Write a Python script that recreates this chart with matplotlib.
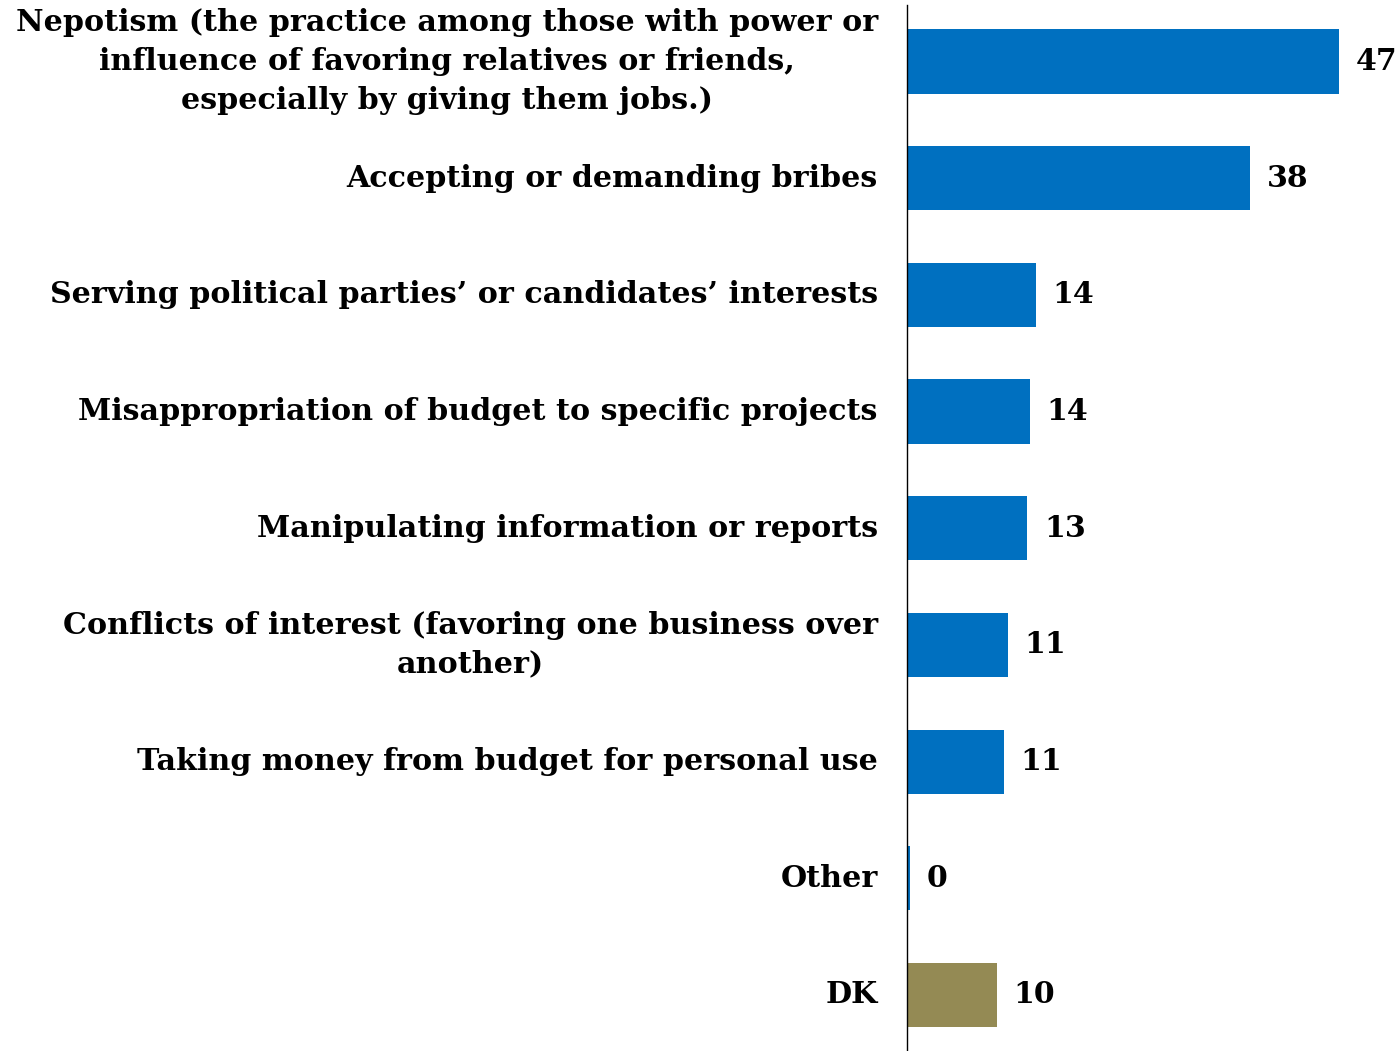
import matplotlib.pyplot as plt

# Dados
categorias = [
    "Nepotism (the practice among those with power or\ninfluence of favoring relatives or friends,\nespecially by giving them jobs.)",
    "Accepting or demanding bribes",
    "Serving political parties\u2019 or candidates\u2019 interests",
    "Misappropriation of budget to specific projects",
    "Manipulating information or reports",
    "Conflicts of interest (favoring one business over\nanother)",
    "Taking money from budget for personal use",
    "Other",
    "DK",
]
valores = [47.0, 37.3, 14.0, 13.4, 13.1, 11.0, 10.5, 0.3, 9.8]
rotulos = ["47", "38", "14", "14", "13", "11", "11", "0", "10"]
cores = ["#0070C0"] * 8 + ["#948A54"]

plt.rcParams["font.family"] = ["DejaVu Serif"]

fig = plt.figure(figsize=(13.98, 10.51), dpi=100)
ax = fig.add_axes([907 / 1398, 0, 1 - 907 / 1398, 1 - 5 / 1051])

y = list(range(len(categorias)))
ax.barh(y, valores, height=0.55, color=cores)

for yi, v, r in zip(y, valores, rotulos):
    ax.text(v + 1.8, yi, r, va="center", ha="left", fontsize=21.5, fontweight="bold")

ax.set_ylim(len(categorias) - 1 + 0.48, -0.484)
ax.set_xlim(0, 53.4)

ax.set_yticks(y)
ax.set_yticklabels(categorias, fontsize=21.7, fontweight="bold")
for t in ax.get_yticklabels():
    t.set_multialignment("center")
    t.set_linespacing(1.42)
    t.set_verticalalignment("center")
ax.tick_params(axis="y", length=0, pad=21)
ax.set_xticks([])

for s in ["top", "right", "bottom"]:
    ax.spines[s].set_visible(False)
ax.spines["left"].set_linewidth(1.0)

plt.savefig("out.png", dpi=100)
